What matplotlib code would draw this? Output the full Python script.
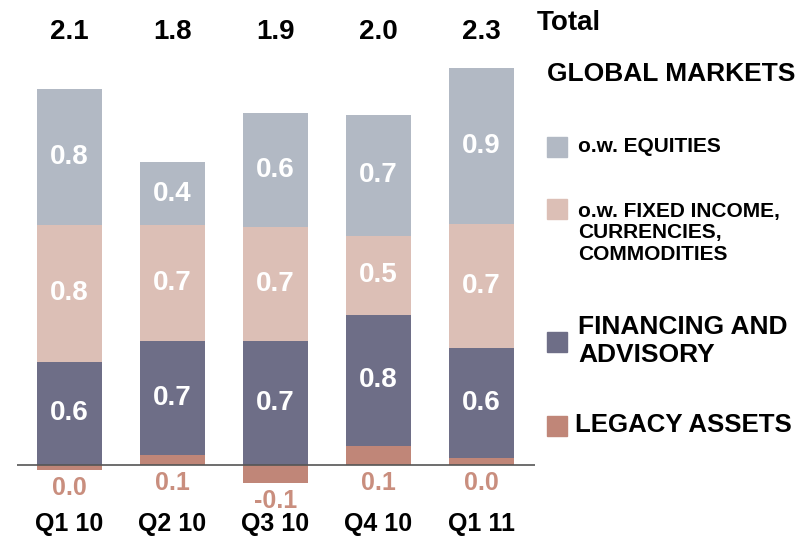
import numpy as np
import matplotlib
matplotlib.use("Agg")
import matplotlib.pyplot as plt

plt.rcParams['font.family'] = ['Liberation Sans', 'DejaVu Sans']
plt.rcParams['font.weight'] = 'bold'

quarters = ["Q1 10", "Q2 10", "Q3 10", "Q4 10", "Q1 11"]
legacy = [-0.03, 0.06, -0.10, 0.11, 0.04]
financing = [0.59, 0.65, 0.71, 0.75, 0.63]
fixed_income = [0.78, 0.66, 0.65, 0.45, 0.71]
equities = [0.78, 0.36, 0.65, 0.69, 0.89]

legacy_lbl = ["0.0", "0.1", "-0.1", "0.1", "0.0"]
financing_lbl = ["0.6", "0.7", "0.7", "0.8", "0.6"]
fixed_lbl = ["0.8", "0.7", "0.7", "0.5", "0.7"]
equities_lbl = ["0.8", "0.4", "0.6", "0.7", "0.9"]
totals_lbl = ["2.1", "1.8", "1.9", "2.0", "2.3"]

C_EQ = "#B2B9C4"
C_FI = "#DCBFB6"
C_FIN = "#6E6E87"
C_LEG = "#C08678"
C_LEG_TXT = "#C98E7E"

W, H = 800, 537
PX = 175.0  # pixels per unit
fig = plt.figure(figsize=(W / 100, H / 100), dpi=100)
ax = fig.add_axes([17 / W, 0, (535 - 17) / W, 1])
ax.set_xlim(-0.505, 4.52)
ax.set_ylim(-(H - 465) / PX, 465 / PX)
ax.axis("off")

x = np.arange(len(quarters))
leg = np.array(legacy)
fin = np.array(financing)
fi = np.array(fixed_income)
eq = np.array(equities)
width = 0.63

base = np.maximum(leg, 0)
ax.bar(x, leg, width, color=C_LEG, zorder=2)
ax.bar(x, fin, width, bottom=base, color=C_FIN, zorder=2)
ax.bar(x, fi, width, bottom=base + fin, color=C_FI, zorder=2)
ax.bar(x, eq, width, bottom=base + fin + fi, color=C_EQ, zorder=2)
ax.axhline(0, color="#555555", lw=1.2, zorder=3)

seg_kw = dict(ha="center", va="center", color="white", fontsize=20, fontweight="bold", zorder=4)
for i in range(len(x)):
    ax.text(x[i], base[i] + fin[i] / 2, financing_lbl[i], **seg_kw)
    ax.text(x[i], base[i] + fin[i] + fi[i] / 2, fixed_lbl[i], **seg_kw)
    ax.text(x[i], base[i] + fin[i] + fi[i] + eq[i] / 2, equities_lbl[i], **seg_kw)
    ax.text(x[i], min(leg[i], 0) - 18 / PX, legacy_lbl[i], ha="center", va="center",
            color=C_LEG_TXT, fontsize=18, fontweight="bold")
    ax.text(x[i], (465 - 32) / PX, totals_lbl[i], ha="center", va="center",
            color="black", fontsize=20, fontweight="bold")
    ax.text(x[i], -(524 - 465) / PX, quarters[i], ha="center", va="center",
            color="black", fontsize=18, fontweight="bold")


def ftext(px, py, s, size, **kw):
    fig.text(px / W, 1 - py / H, s, fontsize=size, fontweight="bold", va="center", ha="left", **kw)


def square(px, py, color):
    fig.patches.append(plt.Rectangle((px / W, 1 - (py + 10) / H), 20 / W, 20 / H,
                                     transform=fig.transFigure, color=color))


ftext(537, 23, "Total", 20)
ftext(547, 74, "GLOBAL MARKETS", 19)
square(547, 147, C_EQ)
ftext(578, 147, "o.w. EQUITIES", 15)
square(547, 209, C_FI)
ftext(578, 233, "o.w. FIXED INCOME,\nCURRENCIES,\nCOMMODITIES", 15, linespacing=1.18)
square(547, 342, C_FIN)
ftext(578, 341, "FINANCING AND\nADVISORY", 19, linespacing=1.2)
square(547, 426, C_LEG)
ftext(575, 425, "LEGACY ASSETS", 18.6)

fig.savefig("out.png", dpi=100)
